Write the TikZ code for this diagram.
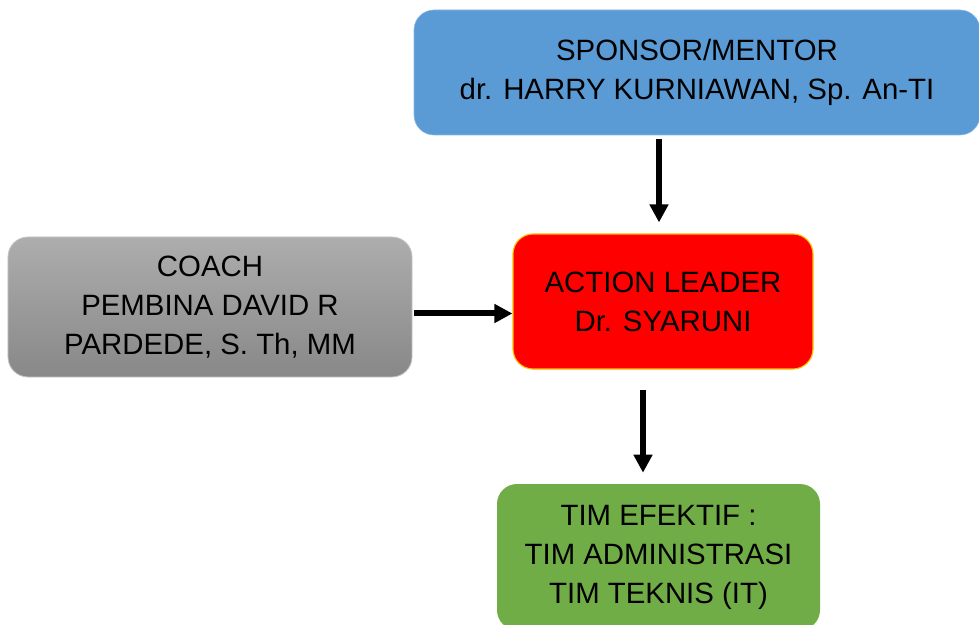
\documentclass[tikz,border=0pt]{standalone}
\usepackage{fontspec}
\setmainfont{Liberation Sans}
\usetikzlibrary{arrows.meta}
\usetikzlibrary{positioning}

\definecolor{sponsorBlue}{HTML}{5B9BD5}
\definecolor{sponsorEdge}{HTML}{8DB8E3}
\definecolor{coachTop}{HTML}{ADADAD}
\definecolor{coachBottom}{HTML}{888888}
\definecolor{coachEdge}{HTML}{C4C4C4}
\definecolor{leaderRed}{HTML}{FF0000}
\definecolor{leaderEdge}{HTML}{FFC000}
\definecolor{teamGreen}{HTML}{70AD47}

\begin{document}
\begin{tikzpicture}[
	box/.style={rounded corners=0.5cm, align=center, inner sep=0pt, text=black,
		font=\fontsize{20.9}{27.7}\selectfont},
	arr/.style={line width=0.15cm, -{Triangle[length=0.45cm,width=0.45cm]}}
]

	% picture size, 1px = 0.025cm
	\def\picW{24.475}
	\def\picH{15.625}
	\useasboundingbox (0,0) rectangle (\picW,-\picH);
	\clip (0,0) rectangle (\picW,-\picH);

	% the four boxes
	\node[box, fill=sponsorBlue, draw=sponsorEdge, line width=0.4pt,
		minimum width=14.15cm, minimum height=3.125cm] (sponsor) at (17.425,-1.8125)
		{SPONSOR/MENTOR\\dr. HARRY KURNIAWAN, Sp. An-TI};
	\node[box, top color=coachTop, bottom color=coachBottom, draw=coachEdge, line width=0.6pt,
		minimum width=10.1cm, minimum height=3.5cm] (coach) at (5.25,-7.675)
		{COACH\\PEMBINA DAVID R\\PARDEDE, S. Th, MM};
	\node[box, fill=leaderRed, draw=leaderEdge, line width=0.8pt,
		minimum width=7.5cm, minimum height=3.375cm] (leader) at (16.575,-7.5375)
		{ACTION LEADER\\Dr. SYARUNI};
	\node[box, fill=teamGreen,
		minimum width=8.075cm, minimum height=3.65cm] (team) at (16.4625,-13.925)
		{TIM EFEKTIF :\\TIM ADMINISTRASI\\TIM TEKNIS (IT)};

	% arrows between the boxes
	\draw[arr, shorten <=0.1cm, shorten >=0.275cm]
		([xshift=-0.1cm]sponsor.south -| leader.north) -- ([xshift=-0.1cm]leader.north);
	\draw[arr, shorten <=0.05cm]
		([yshift=-0.3cm]leader.west -| coach.east) -- ([yshift=-0.3cm]leader.west);
	\draw[arr, shorten <=0.5cm, shorten >=0.275cm]
		([xshift=-0.5cm]leader.south) -- ([xshift=-0.5cm]leader.south |- team.north);

\end{tikzpicture}
\end{document}
